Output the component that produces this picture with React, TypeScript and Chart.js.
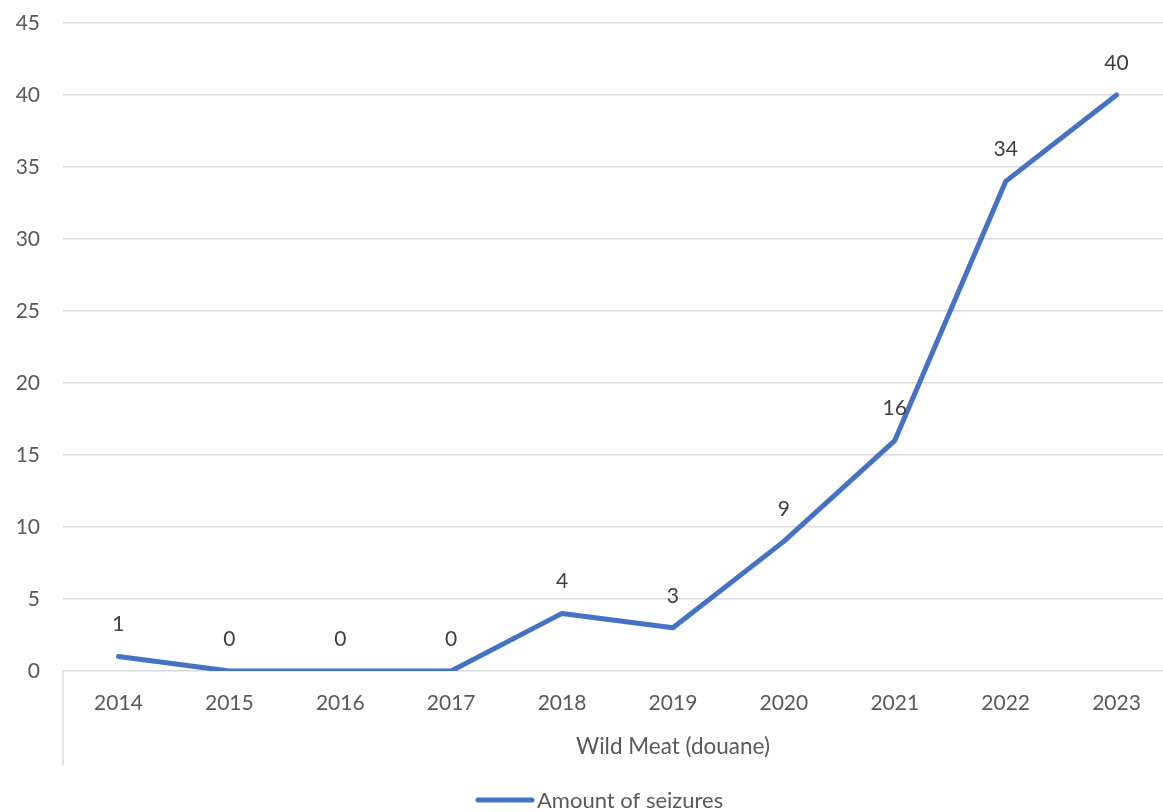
import React, { useEffect, useRef } from "react";
import { Chart, registerables } from "chart.js";

Chart.register(...registerables);

const years = ["2014", "2015", "2016", "2017", "2018", "2019", "2020", "2021", "2022", "2023"];
const seizures = [1, 0, 0, 0, 4, 3, 9, 16, 34, 40];
const seriesName = "Amount of seizures";
const groupLabel = "Wild Meat (douane)";
const yMax = 45;
const yStep = 5;

const FONT = "Lato, 'Open Sans', sans-serif";
const LINE_COLOR = "#4472C4";

export default function App() {
  const ref = useRef<HTMLCanvasElement | null>(null);
  useEffect(() => {
    if (!ref.current) return;
    const extras = {
      id: "extras",
      afterDraw(chart: any) {
        const ctx = chart.ctx;
        const xs = chart.scales.x;
        const area = chart.chartArea;
        ctx.save();
        // left border line for category axis
        ctx.strokeStyle = "#D9D9D9";
        ctx.lineWidth = 1.5;
        ctx.beginPath();
        ctx.moveTo(area.left, area.bottom);
        ctx.lineTo(area.left, area.bottom + 94);
        ctx.stroke();
        // data labels
        ctx.fillStyle = "#404040";
        ctx.font = `21px ${FONT}`;
        ctx.textAlign = "center";
        ctx.textBaseline = "middle";
        const meta = chart.getDatasetMeta(0);
        meta.data.forEach((pt: any, i: number) => {
          ctx.fillText(String(seizures[i]), pt.x, pt.y - 32);
        });
        // group label
        ctx.fillStyle = "#595959";
        ctx.font = `22.5px ${FONT}`;
        ctx.fillText(groupLabel, xs.getPixelForValue(5), area.bottom + 76);
        // legend
        const lx = 478;
        const ly = 800;
        ctx.strokeStyle = LINE_COLOR;
        ctx.lineWidth = 5;
        ctx.lineCap = "round";
        ctx.beginPath();
        ctx.moveTo(lx, ly);
        ctx.lineTo(lx + 54, ly);
        ctx.stroke();
        ctx.textAlign = "left";
        ctx.font = `22px ${FONT}`;
        ctx.fillText(seriesName, lx + 59, ly + 1);
        ctx.restore();
      },
    };
    const chart = new Chart(ref.current, {
      type: "line",
      data: {
        labels: years,
        datasets: [
          {
            label: seriesName,
            data: seizures,
            borderColor: LINE_COLOR,
            backgroundColor: LINE_COLOR,
            borderWidth: 5,
            pointRadius: 0,
            tension: 0,
            borderCapStyle: "round",
            borderJoinStyle: "round",
          },
        ],
      },
      options: {
        animation: false,
        responsive: false,
        layout: { padding: { top: 23, right: 0, left: 0, bottom: 0 } },
        plugins: { legend: { display: false }, tooltip: { enabled: false } },
        scales: {
          x: {
            offset: true,
            grid: { display: false },
            border: { display: false },
            ticks: { color: "#595959", font: { size: 21, family: FONT }, padding: 12, maxRotation: 0 },
            afterFit(scale: any) {
              scale.height = 141;
            },
          },
          y: {
            min: 0,
            max: yMax,
            grid: { color: "#D9D9D9", lineWidth: 1.5, drawTicks: true, tickLength: 23, tickColor: "rgba(0,0,0,0)" },
            border: { display: false },
            ticks: { stepSize: yStep, color: "#595959", font: { size: 21, family: FONT }, padding: 0 },
            afterFit(scale: any) {
              scale.width = 63;
            },
          },
        },
      },
      plugins: [extras],
    });
    return () => chart.destroy();
  }, []);
  return (
    <div style={{ position: "fixed", left: 0, top: 0, width: 1163, height: 812, overflow: "hidden", background: "#fff" }}>
      <canvas ref={ref} width={1172} height={812} style={{ display: "block" }} />
    </div>
  );
}
